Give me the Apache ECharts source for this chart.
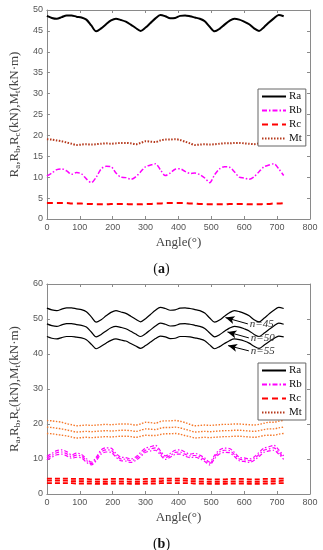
<!DOCTYPE html>
<html><head><meta charset="utf-8">
<script src="https://cdn.jsdelivr.net/npm/echarts@6/dist/echarts.min.js"></script>
<style>html,body{margin:0;padding:0;background:#fff}#c{width:323px;height:550px}</style>
</head><body><div id="c"></div>
<script>
// angle grid (degrees)
const angles = [0,15,30,45,60,75,90,105,120,135,150,165,180,195,210,225,240,255,270,285,300,315,330,345,360,375,390,405,420,435,450,465,480,495,510,525,540,555,570,585,600,615,630,645,660,675,690,705,720];
const xTicks = {min:0, max:800, interval:100};
const yTicksA = {min:0, max:50, interval:5};
const yTicksB = {min:0, max:60, interval:10};

// (a) n = 50
const Ra50 = [48.6,48.1,47.9,48.3,48.7,48.7,48.4,48.2,47.7,46.3,44.9,45.6,46.6,47.5,47.9,47.6,47.2,46.5,45.7,45.0,45.8,46.9,48.0,48.8,48.5,48.0,48.1,48.6,48.7,48.5,48.2,47.9,47.3,46.0,44.9,45.5,46.5,47.4,47.9,47.7,47.2,46.6,45.6,45.0,45.9,47.0,48.0,48.8,48.5];
const Rb50 = [10.3,11.0,11.8,12.0,11.5,10.7,11.1,10.8,9.6,8.7,10.0,12.0,12.6,12.5,11.0,10.0,9.9,9.5,10.1,11.3,12.5,12.9,13.2,11.8,10.4,11.0,11.9,12.0,11.4,10.9,11.0,10.6,9.8,8.7,10.6,12.0,12.5,12.4,11.3,10.0,9.8,9.5,10.1,11.3,12.5,12.9,13.2,12.0,10.4];
const Rc50 = [3.8,3.8,3.8,3.8,3.8,3.7,3.7,3.7,3.6,3.6,3.5,3.5,3.5,3.6,3.6,3.6,3.6,3.5,3.5,3.5,3.6,3.6,3.7,3.7,3.8,3.8,3.8,3.8,3.8,3.7,3.7,3.6,3.6,3.5,3.5,3.5,3.5,3.6,3.6,3.6,3.6,3.5,3.5,3.5,3.6,3.6,3.7,3.7,3.8];
const Mt50 = [19.1,19.0,18.8,18.6,18.3,18.0,17.7,17.8,17.9,17.8,17.9,18.0,18.1,18.0,18.1,18.2,18.2,18.1,17.9,18.2,18.6,18.5,18.4,18.8,19.0,19.0,19.1,18.9,18.5,18.1,17.7,17.8,17.9,17.8,17.9,18.0,18.1,18.1,18.2,18.2,18.1,18.0,17.9,18.1,18.4,18.6,18.6,18.9,19.1];

// (b) n = 45 and n = 55
const Ra45 = [53.1,52.6,52.4,52.8,53.2,53.2,52.9,52.7,52.1,50.6,49.1,49.8,50.9,51.9,52.4,52.0,51.6,50.8,49.9,49.2,50.1,51.3,52.5,53.3,53.0,52.5,52.6,53.1,53.2,53.0,52.7,52.4,51.7,50.3,49.1,49.7,50.8,51.8,52.4,52.1,51.6,50.9,49.8,49.2,50.2,51.4,52.5,53.3,53.0];
const Ra55 = [45.0,44.5,44.3,44.7,45.0,45.0,44.8,44.6,44.1,42.8,41.5,42.2,43.1,43.9,44.3,44.0,43.7,43.0,42.3,41.6,42.4,43.4,44.4,45.1,44.9,44.4,44.5,45.0,45.0,44.9,44.6,44.3,43.8,42.6,41.5,42.1,43.0,43.8,44.3,44.1,43.7,43.1,42.2,41.6,42.5,43.5,44.4,45.1,44.9];
const Rb45 = [10.8,11.6,12.4,12.6,12.1,11.2,11.7,11.3,10.1,9.1,10.5,12.6,13.2,13.1,11.6,10.5,10.4,10.0,10.6,11.9,13.1,13.5,13.9,12.4,10.9,11.6,12.5,12.6,12.0,11.4,11.6,11.1,10.3,9.1,11.1,12.6,13.1,13.0,11.9,10.5,10.3,10.0,10.6,11.9,13.1,13.5,13.9,12.6,10.9];
const Rb55 = [9.8,10.5,11.2,11.4,10.9,10.2,10.5,10.3,9.1,8.3,9.5,11.4,12.0,11.9,10.5,9.5,9.4,9.0,9.6,10.7,11.9,12.3,12.5,11.2,9.9,10.5,11.3,11.4,10.8,10.4,10.5,10.1,9.3,8.3,10.1,11.4,11.9,11.8,10.7,9.5,9.3,9.0,9.6,10.7,11.9,12.3,12.5,11.4,9.9];
const Rc45 = [4.4,4.4,4.4,4.4,4.4,4.3,4.3,4.3,4.3,4.2,4.2,4.2,4.2,4.3,4.3,4.3,4.3,4.2,4.2,4.2,4.3,4.3,4.3,4.4,4.4,4.4,4.4,4.4,4.4,4.3,4.3,4.3,4.3,4.2,4.2,4.2,4.2,4.3,4.3,4.3,4.3,4.2,4.2,4.2,4.3,4.3,4.3,4.4,4.4];
const Rc55 = [3.1,3.1,3.1,3.1,3.1,3.1,3.0,3.0,3.0,3.0,2.9,2.9,2.9,3.0,3.0,3.0,3.0,2.9,2.9,2.9,3.0,3.0,3.0,3.1,3.1,3.1,3.1,3.1,3.1,3.1,3.0,3.0,3.0,2.9,2.9,2.9,2.9,3.0,3.0,3.0,3.0,2.9,2.9,2.9,3.0,3.0,3.0,3.1,3.1];
const Mt45 = [21.0,20.9,20.7,20.5,20.1,19.8,19.5,19.6,19.7,19.6,19.7,19.8,19.9,19.8,19.9,20.0,20.0,19.9,19.7,20.0,20.5,20.4,20.2,20.7,20.9,20.9,21.0,20.8,20.4,19.9,19.5,19.6,19.7,19.6,19.7,19.8,19.9,19.9,20.0,20.0,19.9,19.8,19.7,19.9,20.2,20.5,20.5,20.8,21.0];
const Mt55 = [17.3,17.2,17.0,16.8,16.6,16.3,16.0,16.1,16.2,16.1,16.2,16.3,16.4,16.3,16.4,16.5,16.5,16.4,16.2,16.5,16.8,16.7,16.7,17.0,17.2,17.2,17.3,17.1,16.7,16.4,16.0,16.1,16.2,16.1,16.2,16.3,16.4,16.4,16.5,16.5,16.4,16.3,16.2,16.4,16.7,16.8,16.8,17.1,17.3];

// annotation arrows (data units): [tailX, tailY, headX, headY, label]
const arrowNotes = [
  [611, 48.6, 543, 50.4, 'n=45'],
  [614, 44.6, 549, 46.3, 'n=50'],
  [614, 40.9, 551, 42.4, 'n=55']
];

const serif = '"Liberation Serif","Times New Roman",serif';
const sans = '"Liberation Sans",Arial,sans-serif';
const axisCol = '#8a8a8a';
const labCol = '#555';

const pairs = arr => angles.map((a,i)=>[a,arr[i]]);

function xAxes(gi){
  const base = {type:'value', gridIndex:gi, min:xTicks.min, max:xTicks.max, interval:xTicks.interval,
    axisLine:{show:true,onZero:false,lineStyle:{color:axisCol,width:1}},
    axisTick:{show:true,inside:true,length:3,lineStyle:{color:axisCol}},
    splitLine:{show:false}};
  return [
    Object.assign({}, base, {position:'bottom',
      axisLabel:{color:labCol,fontFamily:sans,fontSize:9,margin:4},
      name:'Angle(°)', nameLocation:'middle', nameGap:17,
      nameTextStyle:{fontFamily:serif,fontSize:13,color:'#444'}}),
    Object.assign({}, base, {position:'top', axisLabel:{show:false}})
  ];
}
function yAxes(gi, t){
  const base = {type:'value', gridIndex:gi, min:t.min, max:t.max, interval:t.interval,
    axisLine:{show:true,onZero:false,lineStyle:{color:axisCol,width:1}},
    axisTick:{show:true,inside:true,length:3,lineStyle:{color:axisCol}},
    splitLine:{show:false}};
  return [
    Object.assign({}, base, {position:'left',
      axisLabel:{color:labCol,fontFamily:sans,fontSize:9,margin:4},
      name:'R{s|a},R{s|b},R{s|c}(kN),M{s|t}(kN·m)', nameLocation:'middle', nameGap:21, nameRotate:90,
      nameTextStyle:{fontFamily:serif,fontSize:13,color:'#444',
        rich:{s:{fontFamily:serif,fontSize:9,color:'#444',verticalAlign:'bottom',padding:[6,0,0,0]}}}}),
    Object.assign({}, base, {position:'right', axisLabel:{show:false}})
  ];
}

function line(name, data, xi, yi, style){
  return {type:'line', name, data:pairs(data), xAxisIndex:xi, yAxisIndex:yi,
    symbol:'none', smooth:0.3, lineStyle:style, itemStyle:{color:style.color}, z:3};
}

const stA = {
  Ra:{color:'#000',width:2},
  Rb:{color:'#ff00ff',width:1.5,type:[5,2,1.5,2]},
  Rc:{color:'#ff0000',width:2,type:[6,4]},
  Mt:{color:'#b5381b',width:2,type:[1.5,1.5]}
};
const stB = {
  Ra:{color:'#000',width:1.2},
  Rb:{color:'#ff00ff',width:1.2,type:[4,2,1.5,2]},
  Rc:{color:'#ff0000',width:1.8,type:[5,3]},
  Mt:{color:'#f5782a',width:1.4,type:[1.5,1.5]}
};

const series = [
  line('Ra', Ra50, 0, 0, stA.Ra),
  line('Rb', Rb50, 0, 0, stA.Rb),
  line('Rc', Rc50, 0, 0, stA.Rc),
  line('Mt', Mt50, 0, 0, stA.Mt),
  line('Ra', Ra45, 2, 2, stB.Ra),
  line('Ra', Ra50, 2, 2, stB.Ra),
  line('Ra', Ra55, 2, 2, stB.Ra),
  line('Rb', Rb45, 2, 2, stB.Rb),
  line('Rb', Rb50, 2, 2, stB.Rb),
  line('Rb', Rb55, 2, 2, stB.Rb),
  line('Rc', Rc45, 2, 2, stB.Rc),
  line('Rc', Rc50, 2, 2, stB.Rc),
  line('Rc', Rc55, 2, 2, stB.Rc),
  line('Mt', Mt45, 2, 2, stB.Mt),
  line('Mt', Mt50, 2, 2, stB.Mt),
  line('Mt', Mt55, 2, 2, stB.Mt)
];
// arrows attached to the Ra series of (b)
series[4].markLine = {
  silent:true, animation:false, symbol:['none','arrow'], symbolSize:[6,9],
  lineStyle:{color:'#000',width:1,type:'solid'},
  label:{show:true, position:'start', distance:2, fontFamily:serif, fontStyle:'italic', fontSize:11, color:'#333',
    formatter:p=>p.data.note},
  data: arrowNotes.map(n=>[{coord:[n[0],n[1]], note:n[4]},{coord:[n[2],n[3]]}])
};

const legendBase = {orient:'vertical', data:['Ra','Rb','Rc','Mt'], itemWidth:24, itemHeight:9, itemGap:3,
  padding:[2,4,2,3], backgroundColor:'#fff', borderColor:'#666', borderWidth:1, borderRadius:0,
  itemStyle:{color:'rgba(0,0,0,0)', borderColor:'rgba(0,0,0,0)', borderWidth:0},
  textStyle:{fontFamily:serif,fontSize:11,color:'#111',padding:[0,0,0,-2]}, selectedMode:false};

const chart = echarts.init(document.getElementById('c'), null, {renderer:'canvas'});
chart.setOption({
  animation:false,
  backgroundColor:'#fff',
  title:[
    {text:'({b|a})', left:'center', top:257, textStyle:{fontFamily:serif,fontSize:14,color:'#111',fontWeight:'normal',rich:{b:{fontFamily:serif,fontSize:14,fontWeight:'bold',color:'#111'}}}},
    {text:'({b|b})', left:'center', top:532, textStyle:{fontFamily:serif,fontSize:14,color:'#111',fontWeight:'normal',rich:{b:{fontFamily:serif,fontSize:14,fontWeight:'bold',color:'#111'}}}}
  ],
  grid:[
    {left:42, right:13, top:10, height:209, containLabel:false},
    {left:42, right:13, top:284, height:210, containLabel:false}
  ],
  xAxis:[...xAxes(0), ...xAxes(1)],
  yAxis:[...yAxes(0,yTicksA), ...yAxes(1,yTicksB)],
  legend:[
    Object.assign({}, legendBase, {left:258, top:89}),
    Object.assign({}, legendBase, {left:258, top:363})
  ],
  series
});
</script></body></html>
